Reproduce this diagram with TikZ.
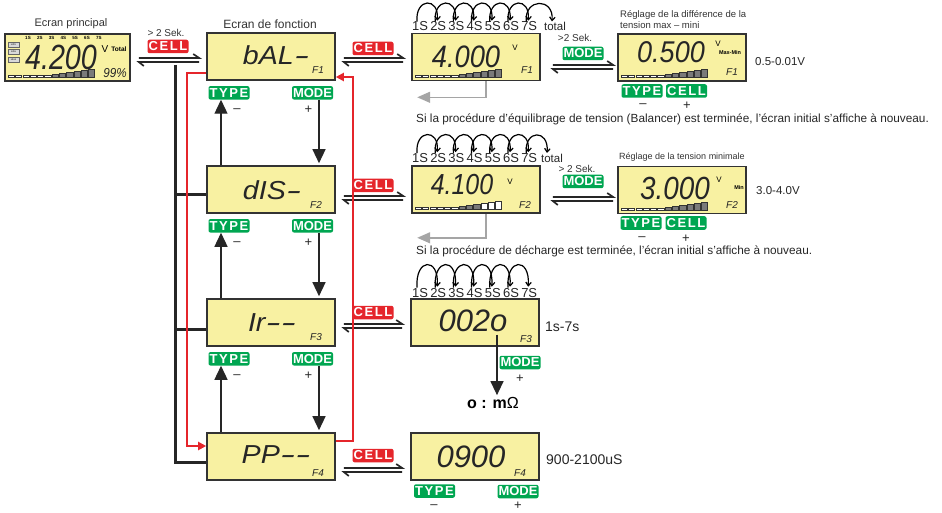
\documentclass[tikz,border=0pt]{standalone}
\usepackage{fontspec}
\setmainfont{Liberation Sans}
\usepackage{graphicx}
\usetikzlibrary{calc, positioning, arrows.meta}

\definecolor{lcdyellow}{HTML}{F8F1A2}
\definecolor{badgegreen}{HTML}{00A651}
\definecolor{badgered}{HTML}{E5252B}
\definecolor{lcdgray}{HTML}{7A7A7A}
\definecolor{arrowgray}{HTML}{A5A5A5}
\definecolor{framegray}{HTML}{333333}

\newcommand{\spaced}[1]{{\addfontfeature{LetterSpace=12}#1}}
\newcommand{\seg}{\scalebox{1.6}[1]{-}}

\tikzset{
  lcd/.style={draw=framegray, line width=1.6pt, fill=lcdyellow, minimum width=128pt, minimum height=47pt, inner sep=0pt},
  badge/.style={rounded corners=2pt, text=white, font=\bfseries\fontsize{13}{13}\selectfont, minimum width=41pt, minimum height=13.5pt, inner sep=0pt},
  gbadge/.style={badge, fill=badgegreen},
  rbadge/.style={badge, fill=badgered},
  segtext/.style={font=\itshape\fontsize{26}{26}\selectfont, anchor=base, inner sep=0pt, text=black!85},
  digits/.style={font=\itshape\fontsize{31}{31}\selectfont, anchor=base, inner sep=0pt, text=black!85},
  fnum/.style={font=\itshape\fontsize{10}{10}\selectfont, anchor=base, inner sep=0pt, text=black!85},
  lbl/.style={font=\fontsize{11}{11}\selectfont, text=black!80, inner sep=0pt},
  note/.style={font=\fontsize{11.8}{11.8}\selectfont, text=black!85, anchor=west, inner sep=0pt},
  rangetxt/.style={font=\fontsize{11.5}{11.5}\selectfont, text=black!85, anchor=west, inner sep=0pt},
  pm/.style={font=\fontsize{13}{13}\selectfont, text=black!85, inner sep=0pt},
  cellnum/.style={font=\fontsize{13}{13}\selectfont, text=black!85, anchor=base, inner sep=0pt},
  harp/.style={line width=1.7pt, black!85},
  bigarrow/.style={line width=1.3pt, black!85, -{Triangle[length=14pt,width=13pt]}},
  redarrow/.style={line width=2.3pt, badgered, -{Triangle[length=8pt,width=8pt]}},
  bus/.style={line width=3pt, black!85},
  grayarrow/.style={line width=1.5pt, arrowgray, -{Triangle[length=13pt,width=11pt]}},
  hop/.style={line width=1.2pt, black, -{Straight Barb[length=3.5pt,width=5.5pt]}}
}

% double half-arrows between two screens
\newcommand{\harpoons}[5]{%
  \draw[harp] ($(#1.east)+(#4,#3)$) -- ($(#1.east -| #2.west)+(-#5,#3)$) -- ++(-6,-4);
  \draw[harp] ($(#1.east)+(#4+5,#3+8)$) -- ($(#1.east)+(#4,#3+4)$) -- ($(#1.east -| #2.west)+(-#5,#3+4)$);
}

% bar graph at the bottom of a screen
\newcommand{\lcdbar}[2]{%
  \foreach \h [count=\i] in {2,2,2,2,2,2,3,4,5,6,7,8}{
    \ifnum\i>\numexpr12-#2\relax \def\segfill{white}\else
      \ifnum\i<7 \def\segfill{white}\else \def\segfill{lcdgray}\fi\fi
    \draw[line width=0.6pt, draw=black!80, fill=\segfill] ($(#1.south west)+({4+7.3*(\i-1)},-4)$) rectangle ++(6.2,-\h);
  }}

\begin{document}
\begin{tikzpicture}[x=1pt, y=-1pt]
  \useasboundingbox (0,0) rectangle (942,513);

  % Screens
  \node[lcd, minimum width=125pt] (main) at (67.5,57.5) {};
  \node[lcd] (f1) at (271,56.5) {};
  \node[lcd] (f2) at (271,189.5) {};
  \node[lcd] (f3) at (271,322.5) {};
  \node[lcd] (f4) at (271,456.5) {};
  \node[lcd] (v1) at (476,57) {};
  \node[lcd] (v2) at (476,189.5) {};
  \node[lcd] (v3) at (475,322.5) {};
  \node[lcd] (v4) at (475,456.5) {};
  \node[lcd] (s1) at (682,57.5) {};
  \node[lcd] (s2) at (682,190) {};

  % Titles
  \node[lbl] (tmain) at (71,24) {Ecran principal};
  \node[lbl, font=\fontsize{12}{12}\selectfont] (tfun) at (270,24) {Ecran de fonction};

  % Main screen
  \foreach \cnum in {1,...,7}
    \node[font=\bfseries\fontsize{4.5}{4.5}\selectfont, inner sep=0pt] (mc\cnum) at ({28+11.8*(\cnum-1)},38) {\cnum S};
  \foreach \chem/\yy [count=\cnum] in {LiPo/44.5, LiFe/51.5, LiIon/59.5}
    \node[draw=black!60, fill=black!15, minimum width=11pt, minimum height=5.5pt, inner sep=0pt, font=\fontsize{2.5}{2.5}\selectfont] (chem\cnum) at (13.5,\yy) {\chem};
  \node[digits, font=\itshape\fontsize{35}{35}\selectfont] (mdig) at (61,70) {\scalebox{0.82}[1]{4.200}};
  \node[font=\fontsize{10}{10}\selectfont, inner sep=0pt] (mvolt) at (105,49) {V};
  \node[font=\bfseries\fontsize{6.5}{6.5}\selectfont, inner sep=0pt] (mtot) at (119,49) {Total};
  \node[fnum, font=\itshape\fontsize{13}{13}\selectfont] (mpct) at (115,78) {\scalebox{0.9}[1]{99\%}};
  \lcdbar{main}{0}

  % Function screens
  \node[segtext] (f1txt) at (276,65) {\scalebox{1.1}[1]{bAL\seg}};
  \node[segtext] (f2txt) at (272,200) {\scalebox{1.1}[1]{dIS\seg}};
  \node[segtext] (f3txt) at (272,331) {\scalebox{1.1}[1]{Ir\seg\seg}};
  \node[segtext] (f4txt) at (276,463) {\scalebox{1.1}[1]{PP\seg\seg}};
  \node[fnum] (f1no) at (318,74) {F1};
  \node[fnum] (f2no) at (316,209) {F2};
  \node[fnum] (f3no) at (316,340) {F3};
  \node[fnum] (f4no) at (318,476) {F4};

  % Value screens
  \node[digits] (v1txt) at (466,68) {\scalebox{0.88}[1]{4.000}};
  \node[digits, font=\itshape\fontsize{29}{29}\selectfont] (v2txt) at (462,195) {\scalebox{0.86}[1]{4.100}};
  \node[digits] (v3txt) at (473,331) {002o};
  \node[digits] (v4txt) at (471,467) {0900};
  \node[font=\fontsize{8}{8}\selectfont, inner sep=0pt] (v1volt) at (515,48) {V};
  \node[font=\fontsize{8}{8}\selectfont, inner sep=0pt] (v2volt) at (510,182) {V};
  \node[fnum] (v1no) at (527,74) {F1};
  \node[fnum] (v2no) at (525,208) {F2};
  \node[fnum] (v3no) at (526,342) {F3};
  \node[fnum] (v4no) at (520,476) {F4};
  \lcdbar{v1}{0}
  \lcdbar{v2}{3}

  % Setting screens
  \node[digits, font=\itshape\fontsize{30}{30}\selectfont] (s1txt) at (671,63) {\scalebox{0.9}[1]{0.500}};
  \node[digits, font=\itshape\fontsize{32}{32}\selectfont] (s2txt) at (675,200) {\scalebox{0.87}[1]{3.000}};
  \node[font=\fontsize{8}{8}\selectfont, inner sep=0pt] (s1volt) at (718,44) {V};
  \node[font=\fontsize{8}{8}\selectfont, inner sep=0pt] (s2volt) at (719,180) {V};
  \node[font=\bfseries\fontsize{5.5}{5.5}\selectfont, inner sep=0pt] (s1mm) at (730,53) {Max-Min};
  \node[font=\bfseries\fontsize{5.5}{5.5}\selectfont, inner sep=0pt] (s2mm) at (739,188) {Min};
  \node[fnum] (s1no) at (732,76) {F1};
  \node[fnum] (s2no) at (732,208) {F2};
  \lcdbar{s1}{0}
  \lcdbar{s2}{0}
  \node[font=\fontsize{9.5}{11.5}\selectfont, text=black!80, anchor=south west, inner sep=0pt, align=left] (s1title) at (620,29) {Réglage de la différence de la\\tension max – mini};
  \node[font=\fontsize{9}{9}\selectfont, text=black!80, anchor=west, inner sep=0pt] (s2title) at (619,157) {Réglage de la tension minimale};
  \node[rangetxt] (s1range) at (755,62) {0.5-0.01V};
  \node[rangetxt] (s2range) at (756,191) {3.0-4.0V};
  \node[rangetxt, font=\fontsize{14}{14}\selectfont] (v3range) at (545,327) {1s-7s};
  \node[rangetxt, font=\fontsize{14}{14}\selectfont] (v4range) at (546,460) {900-2100uS};

  % Cell hops
  \foreach \cnum in {1,...,7}{
    \node[cellnum] (ra\cnum) at ({420+18.2*(\cnum-1)},31) {\cnum S};
    \node[cellnum] (rb\cnum) at ({420+18.2*(\cnum-1)},162.5) {\cnum S};
    \node[cellnum] (rc\cnum) at ({420+18.2*(\cnum-1)},297) {\cnum S};
  }
  \node[cellnum, font=\fontsize{11.5}{11.5}\selectfont] (ratot) at (555,31) {total};
  \node[cellnum, font=\fontsize{11.5}{11.5}\selectfont] (rbtot) at (552,162.5) {total};
  \foreach \cnum [evaluate=\cnum as \nnum using int(\cnum+1)] in {1,...,6}{
    \draw[hop] ($(ra\cnum.north)+(-3,0)$) .. controls +(-2,-24) and +(2,-24) .. ($(ra\nnum.north)+(-1,-1)$);
    \draw[hop] ($(rb\cnum.north)+(-3,0)$) .. controls +(-2,-24) and +(2,-24) .. ($(rb\nnum.north)+(-1,-1)$);
    \draw[hop] ($(rc\cnum.north)+(-3,0)$) .. controls +(-2,-30) and +(2,-30) .. ($(rc\nnum.north)+(-1,-1)$);
  }
  \draw[hop] ($(ra7.north)+(-3,0)$) .. controls +(-2,-24) and +(2,-24) .. ($(ratot.north)+(-3,-1)$);
  \draw[hop] ($(rb7.north)+(-3,0)$) .. controls +(-2,-24) and +(2,-24) .. ($(rbtot.north)+(-5,-1)$);

  % CELL / MODE switching
  \node[lbl, font=\fontsize{10}{10}\selectfont] (sek0) at (166,33) {> 2 Sek.};
  \node[rbadge] (cell0) at (168,46.5) {\spaced{CELL}};
  \node[rbadge] (cell1) at (373,48.5) {\spaced{CELL}};
  \node[rbadge] (cell2) at (373,185.5) {\spaced{CELL}};
  \node[rbadge] (cell3) at (373,312.5) {\spaced{CELL}};
  \node[rbadge] (cell4) at (373,455.5) {\spaced{CELL}};
  \node[lbl, font=\fontsize{10}{10}\selectfont] (sek1) at (575,38) {>2 Sek.};
  \node[gbadge] (modev1) at (583,53.5) {MODE};
  \node[lbl, font=\fontsize{10}{10}\selectfont] (sek2) at (577,169) {> 2 Sek.};
  \node[gbadge] (modev2) at (583,181.5) {MODE};
  \harpoons{main}{f1}{0.5}{8}{7}
  \harpoons{f1}{v1}{1.5}{8}{8}
  \harpoons{f2}{v2}{6.5}{8}{8}
  \harpoons{f3}{v3}{1.5}{8}{8}
  \harpoons{f4}{v4}{11.5}{8}{8}
  \harpoons{v1}{s1}{8}{12}{4}
  \harpoons{v2}{s2}{7.5}{12}{4}

  % TYPE / MODE stepping between functions
  \foreach \a/\b in {1/2,2/3,3/4}{
    \node[gbadge] (type\a) at ($(f\a.south)+(-42,12)$) {\spaced{TYPE}};
    \node[gbadge] (mode\a) at ($(f\a.south)+(41.5,12)$) {MODE};
    \node[pm] (minus\a) at ($(type\a.center)+(8,18)$) {–};
    \node[pm] (plus\a) at ($(mode\a.center)+(-4,17)$) {+};
    \coordinate (up\a) at ($(type\a.south)+(-8,0)$);
    \coordinate (dn\a) at ($(mode\a.south)+(6.5,0)$);
    \draw[bigarrow] (f\b.north -| up\a) -- (up\a);
    \draw[bigarrow, shorten >=2pt] (dn\a) -- (dn\a |- f\b.north);
  }

  % Keys under the setting screens
  \node[gbadge] (types1) at (642,91) {\spaced{TYPE}};
  \node[gbadge] (cells1) at (686.5,91) {\spaced{CELL}};
  \node[pm] (minuss1) at (643,106) {–};
  \node[pm] (pluss1) at (687,106) {+};
  \node[gbadge] (types2) at (641,223) {\spaced{TYPE}};
  \node[gbadge] (cells2) at (686,223) {\spaced{CELL}};
  \node[pm] (minuss2) at (642,239) {–};
  \node[pm] (pluss2) at (686,239) {+};
  \node[gbadge] (typev4) at (434.5,491) {\spaced{TYPE}};
  \node[gbadge] (modev4) at (518,491.5) {MODE};
  \node[pm] (minusv4) at (434,507) {–};
  \node[pm] (plusv4) at (518,506) {+};

  % Resistance unit
  \node[font=\bfseries\fontsize{16}{16}\selectfont, inner sep=0pt] (ohm) at (493,403) {o : m{\mdseries Ω}};
  \node[gbadge] (modev3) at (520,362.5) {MODE};
  \node[pm] (plusv3) at (520,379) {+};
  \coordinate (v3o) at ($(v3.center)+(22,12)$);
  \draw[bigarrow] (v3o) -- ($(v3o |- ohm.north)+(0,-2)$);

  % Return to main screen
  \draw[grayarrow] ($(v1.south)+(10,0)$) |- ($(v1.south west)+(6,16)$);
  \draw[grayarrow] ($(v2.south)+(10,0)$) |- ($(v2.south west)+(6,24)$);
  \node[note] (done1) at (416,119) {Si la procédure d'équilibrage de tension (Balancer) est terminée, l'écran initial s'affiche à nouveau.};
  \node[note] (done2) at (416,251) {Si la procédure de décharge est terminée, l'écran initial s'affiche à nouveau.};

  % Black bus
  \draw[bus] ($(f1.west)+(-31,8.5)$) |- ($(f4.west)+(0,5.5)$);
  \draw[bus] ($(f2.west)+(-31,5.5)$) -- ($(f2.west)+(0,5.5)$);
  \draw[bus] ($(f3.west)+(-31,6.5)$) -- ($(f3.west)+(0,6.5)$);

  % Red loop F1 <-> F4
  \draw[redarrow] ($(f1.west)+(0,16.5)$) -| ($(f4.west)+(-19,-10.5)$) -- ($(f4.west)+(0,-10.5)$);
  \draw[redarrow] ($(f4.east)+(0,-15.5)$) -| ($(f1.east)+(17,20.5)$) -- ($(f1.east)+(0,20.5)$);
\end{tikzpicture}
\end{document}
